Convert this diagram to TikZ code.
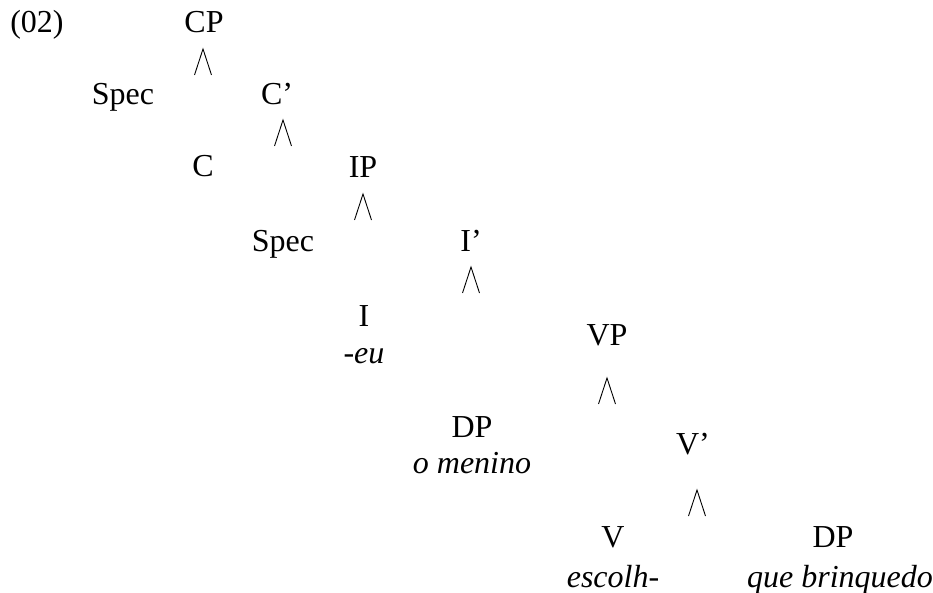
\documentclass[tikz,border=0pt]{standalone}
\usepackage{fontspec}
\setmainfont{Liberation Serif}
\usepackage{tikz}
\tikzset{
  lbl/.style={inner sep=0pt, anchor=base, font=\fontsize{32}{38}\selectfont},
  word/.style={lbl, font=\fontsize{32}{38}\selectfont\itshape},
  branch/.style={line width=0.9pt}
}

\begin{document}
\begin{tikzpicture}[x=1pt, y=-1pt]
  \useasboundingbox (0,0) rectangle (933,593);
  % labels of the tree
  \node[lbl] (ex) at (37,33) {(02)};
  \node[lbl] (cp) at (204,33) {CP};
  \node[lbl] (specc) at (123,105) {Spec};
  \node[lbl] (cbar) at (277,105) {C’};
  \node[lbl] (c) at (203,177) {C};
  \node[lbl] (ip) at (363,178) {IP};
  \node[lbl] (speci) at (283,252) {Spec};
  \node[lbl] (ibar) at (471,252) {I’};
  \node[lbl] (i) at (364,326) {I};
  \node[word] (eu) at (364,363) {-eu};
  \node[lbl] (vp) at (607,345) {VP};
  \node[lbl] (dpsubj) at (472,437) {DP};
  \node[word] (menino) at (472,473) {o menino};
  \node[lbl] (vbar) at (693,454) {V’};
  \node[lbl] (v) at (613,547) {V};
  \node[word] (escolh) at (613,587) {escolh-};
  \node[lbl] (dpobj) at (833,547) {DP};
  \node[word] (brinq) at (840,587) {que brinquedo};
  % the little branching marks
  \foreach \x/\y in {203/49, 283/120, 363/194, 471/267, 607/378, 697/490}
    \draw[branch] (\x-8.5,\y+26) -- (\x,\y) -- (\x+8.5,\y+26);
\end{tikzpicture}
\end{document}
